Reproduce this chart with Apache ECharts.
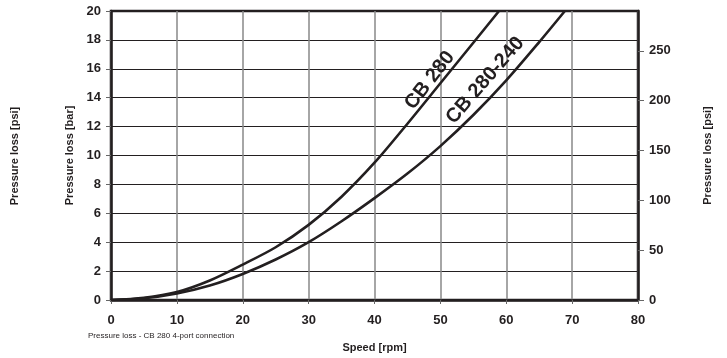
<!DOCTYPE html>
<html>
<head>
<meta charset="utf-8">
<script src="https://cdn.jsdelivr.net/npm/echarts@6/dist/echarts.min.js"></script>
<style>
html,body{margin:0;padding:0;background:#fff;}
#chart{width:727px;height:358px;}
</style>
</head>
<body>
<div id="chart"></div>
<script>
// Data
var speed280 = [0, 5, 10, 15, 20, 25, 30, 35, 40, 45, 50, 55, 58.9];
var bar280   = [0, 0.15, 0.55, 1.35, 2.45, 3.65, 5.2, 7.15, 9.5, 12.2, 15.0, 17.8, 20];
var speed240 = [0, 5, 10, 15, 20, 25, 30, 35, 40, 45, 50, 55, 60, 65, 68.9];
var bar240   = [0, 0.12, 0.45, 1.0, 1.8, 2.8, 4.0, 5.45, 7.05, 8.75, 10.65, 12.8, 15.2, 17.85, 20];
var seriesNames = ['CB 280', 'CB 280-240'];
var psiTicks = [0, 50, 100, 150, 200, 250];
var labelPos280 = [48.4, 15.2];
var labelPos240 = [56.8, 15.2];

function pairs(xs, ys) { return xs.map(function (x, i) { return [x, ys[i]]; }); }

var FONT = '"Liberation Sans", Arial, Helvetica, sans-serif';
var INK = '#231f20';

var chart = echarts.init(document.getElementById('chart'), null, {renderer: 'canvas'});
chart.setOption({
  animation: false,
  backgroundColor: '#fff',
  textStyle: {fontFamily: FONT},
  grid: {left: 111, right: 89, top: 11, bottom: 57, show: true, borderColor: INK, borderWidth: 2.5, containLabel: false},
  xAxis: {
    type: 'value', min: 0, max: 80, interval: 10,
    name: 'Speed [rpm]', nameLocation: 'middle', nameGap: 42,
    nameTextStyle: {fontFamily: FONT, fontWeight: 'bold', fontSize: 11, color: INK},
    axisLine: {show: true, lineStyle: {color: INK, width: 2.5}},
    axisTick: {show: true, length: 4, lineStyle: {color: '#666', width: 1}},
    axisLabel: {fontFamily: FONT, fontWeight: 'bold', fontSize: 13, color: INK, margin: 14},
    splitLine: {show: true, lineStyle: {color: '#888', width: 1.5}}
  },
  yAxis: [{
    type: 'value', min: 0, max: 20, interval: 2, position: 'left',
    name: 'Pressure loss [bar]', nameLocation: 'middle', nameGap: 36, nameRotate: 90,
    nameTextStyle: {fontFamily: FONT, fontWeight: 'bold', fontSize: 11, color: INK},
    axisLine: {show: true, lineStyle: {color: INK, width: 2.5}},
    axisTick: {show: true, length: 5, lineStyle: {color: '#666', width: 1}},
    axisLabel: {fontFamily: FONT, fontWeight: 'bold', fontSize: 13, color: INK, margin: 10},
    splitLine: {show: true, lineStyle: {color: INK, width: 1.2}}
  }, {
    type: 'value', min: 0, max: 290, interval: 50, position: 'right',
    name: 'Pressure loss [psi]', nameLocation: 'middle', nameGap: 64, nameRotate: 90,
    nameTextStyle: {fontFamily: FONT, fontWeight: 'bold', fontSize: 11, color: INK},
    axisLine: {show: true, lineStyle: {color: INK, width: 2.5}},
    axisTick: {show: true, length: 6, customValues: psiTicks, lineStyle: {color: '#666', width: 1}},
    axisLabel: {fontFamily: FONT, fontWeight: 'bold', fontSize: 13, color: INK, margin: 11, customValues: psiTicks},
    splitLine: {show: false}
  }],
  graphic: [{
    type: 'text', x: 15, y: 156, rotation: Math.PI / 2,
    style: {text: 'Pressure loss [psi]', font: 'bold 11px ' + FONT, fill: INK, align: 'center', verticalAlign: 'middle'}
  }, {
    type: 'text', x: 88, y: 336,
    style: {text: 'Pressure loss - CB 280 4-port connection', font: '8px ' + FONT, fill: INK, align: 'left', verticalAlign: 'middle'}
  }],
  series: [{
    name: seriesNames[0], type: 'line', smooth: 0.3, showSymbol: false, symbol: 'none',
    data: pairs(speed280, bar280), yAxisIndex: 0,
    lineStyle: {color: INK, width: 2.6},
    markPoint: {
      symbol: 'circle', symbolSize: 0,
      data: [{coord: labelPos280, label: {show: true, formatter: seriesNames[0], rotate: 52, fontFamily: FONT, fontWeight: 'bold', fontSize: 20, color: INK, position: 'inside'}}]
    }
  }, {
    name: seriesNames[1], type: 'line', smooth: 0.3, showSymbol: false, symbol: 'none',
    data: pairs(speed240, bar240), yAxisIndex: 0,
    lineStyle: {color: INK, width: 2.6},
    markPoint: {
      symbol: 'circle', symbolSize: 0,
      data: [{coord: labelPos240, label: {show: true, formatter: seriesNames[1], rotate: 49, fontFamily: FONT, fontWeight: 'bold', fontSize: 20, color: INK, position: 'inside'}}]
    }
  }]
});
</script>
</body>
</html>
